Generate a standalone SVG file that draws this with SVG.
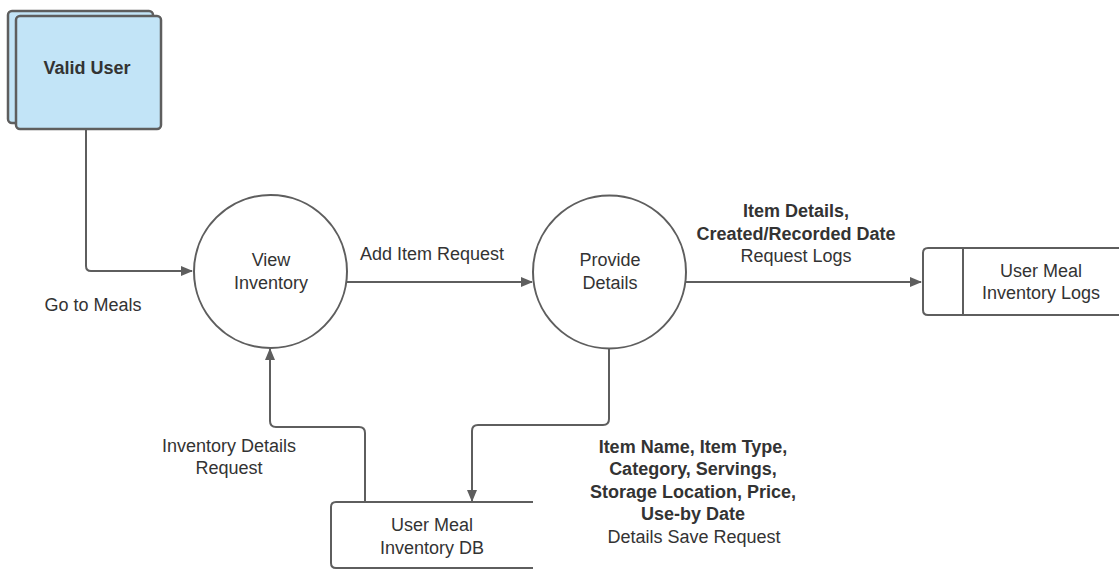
<svg xmlns="http://www.w3.org/2000/svg" width="1119" height="569" viewBox="0 0 1119 569">
  <style>
    .shape { fill: #ffffff; stroke: #5e5e5e; stroke-width: 2; }
    .entity { fill: #c2e4f7; stroke: #5e5e5e; stroke-width: 2.5; }
    .flow { fill: none; stroke: #5e5e5e; stroke-width: 2; }
    text { font-family: "Liberation Sans", Arial, sans-serif; font-size: 18px; fill: #333333; text-anchor: middle; }
    .b { font-weight: bold; }
  </style>
  <defs>
    <marker id="arrow" viewBox="0 0 12 10" refX="11" refY="5" markerWidth="12" markerHeight="10" markerUnits="userSpaceOnUse" orient="auto">
      <path d="M0,0 L12,5 L0,10 Z" fill="#5e5e5e"/>
    </marker>
  </defs>

  <!-- data flows -->
  <g id="connectors">
    <path class="flow" d="M86,130 V266 Q86,271 91,271 H192" marker-end="url(#arrow)"/>
    <path class="flow" d="M347,282 H532" marker-end="url(#arrow)"/>
    <path class="flow" d="M686,282 H921" marker-end="url(#arrow)"/>
    <path class="flow" d="M609,348 V419 Q609,425 603,425 H478 Q472,425 472,431 V501" marker-end="url(#arrow)"/>
    <path class="flow" d="M365,502 V433 Q365,427 359,427 H276 Q270,427 270,421 V349" marker-end="url(#arrow)"/>
  </g>

  <!-- external entity -->
  <g id="valid-user">
    <rect class="entity" x="8" y="11" width="145" height="112" rx="4"/>
    <rect class="entity" x="16" y="16" width="145" height="113" rx="4"/>
    <text class="b" x="87" y="74">Valid User</text>
  </g>

  <!-- processes -->
  <g id="view-inventory">
    <circle class="shape" cx="270.5" cy="271.5" r="76.5"/>
    <text x="271" y="266">View</text>
    <text x="271" y="289">Inventory</text>
  </g>
  <g id="provide-details">
    <circle class="shape" cx="609.5" cy="272" r="76.5"/>
    <text x="610" y="266">Provide</text>
    <text x="610" y="289">Details</text>
  </g>

  <!-- data stores -->
  <g id="inventory-logs">
    <path class="shape" d="M1121,248 H928 Q923,248 923,253 V310 Q923,315 928,315 H1121"/>
    <line class="shape" x1="963" y1="248" x2="963" y2="315"/>
    <text x="1041" y="277">User Meal</text>
    <text x="1041" y="299">Inventory Logs</text>
  </g>
  <g id="inventory-db">
    <path class="shape" d="M533,502 H336 Q331,502 331,507 V563 Q331,568 336,568 H533"/>
    <text x="432" y="531">User Meal</text>
    <text x="432" y="554">Inventory DB</text>
  </g>

  <!-- flow labels -->
  <g id="labels">
    <text x="93" y="311">Go to Meals</text>
    <text x="432" y="260">Add Item Request</text>
    <text class="b" x="796" y="217">Item Details,</text>
    <text class="b" x="796" y="240">Created/Recorded Date</text>
    <text x="796" y="262">Request Logs</text>
    <text x="229" y="452">Inventory Details</text>
    <text x="229" y="474">Request</text>
    <text class="b" x="693" y="452.5">Item Name, Item Type,</text>
    <text class="b" x="693" y="475">Category, Servings,</text>
    <text class="b" x="693" y="497.5">Storage Location, Price,</text>
    <text class="b" x="693" y="519.5">Use-by Date</text>
    <text x="694" y="543">Details Save Request</text>
  </g>
</svg>
